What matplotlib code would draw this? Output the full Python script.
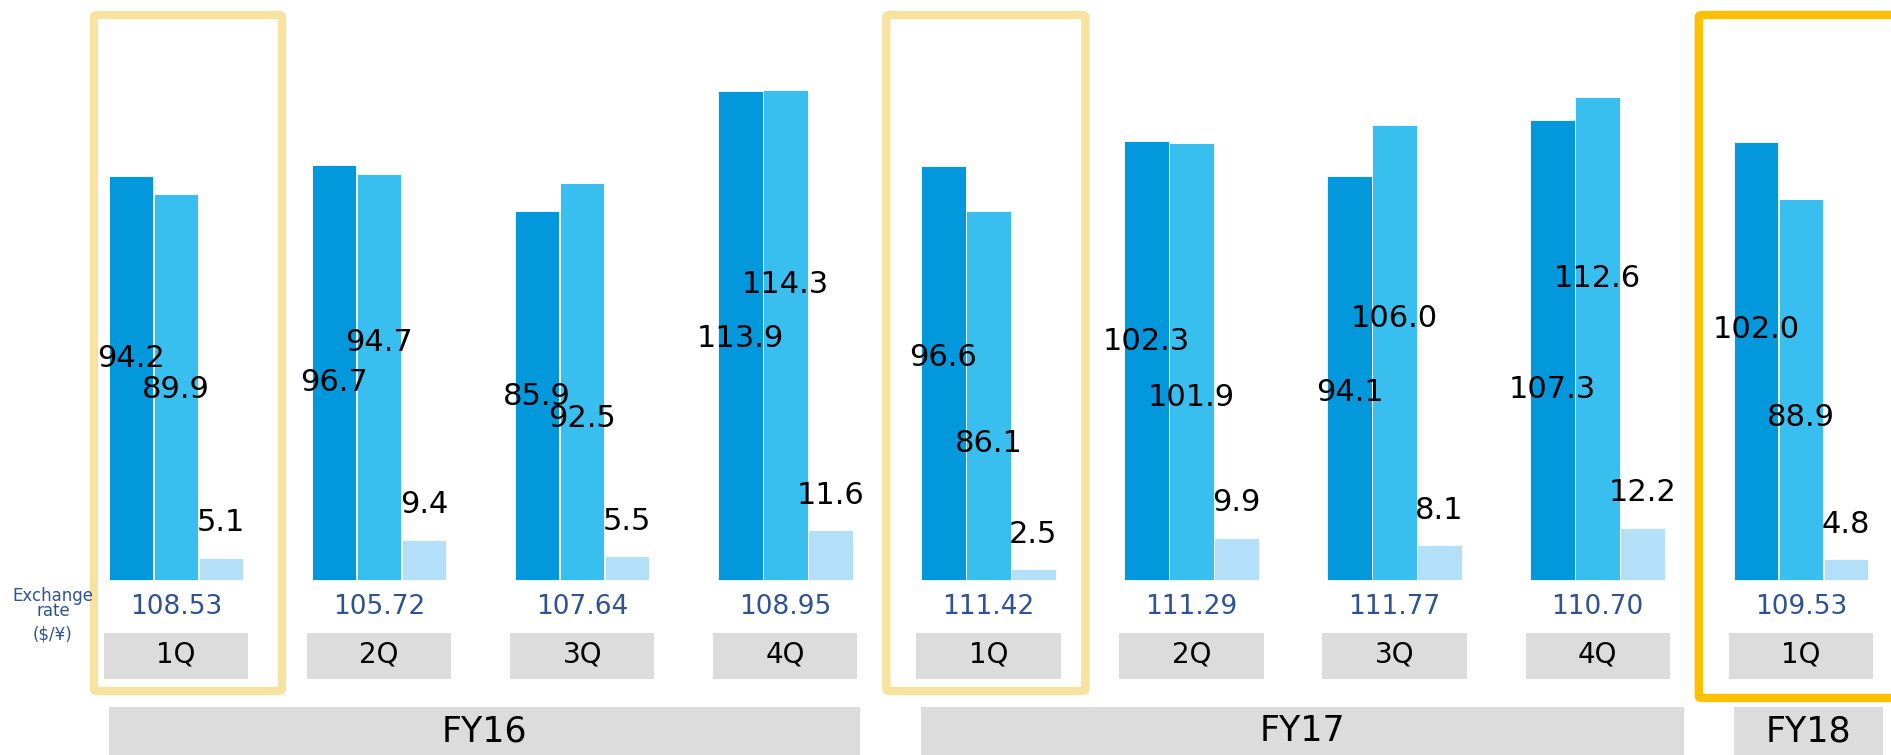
import matplotlib
matplotlib.use("Agg")
import matplotlib.pyplot as plt
from matplotlib.patches import Rectangle, FancyBboxPatch

# data
quarters = ["1Q", "2Q", "3Q", "4Q", "1Q", "2Q", "3Q", "4Q", "1Q"]
years = ["FY16", "FY17", "FY18"]
year_groups = [(0, 3), (4, 7), (8, 8)]
series_a = [94.2, 96.7, 85.9, 113.9, 96.6, 102.3, 94.1, 107.3, 102.0]
series_b = [89.9, 94.7, 92.5, 114.3, 86.1, 101.9, 106.0, 112.6, 88.9]
series_c = [5.1, 9.4, 5.5, 11.6, 2.5, 9.9, 8.1, 12.2, 4.8]
exchange = ["108.53", "105.72", "107.64", "108.95", "111.42",
            "111.29", "111.77", "110.70", "109.53"]

# label heights as placed on the slide (data units)
label_a_y = [51.6, 46.0, 42.7, 56.2, 51.9, 55.7, 43.8, 44.3, 58.5]
label_b_y = [44.3, 55.3, 37.6, 68.9, 31.9, 42.6, 61.0, 70.3, 37.8]

# layout (pixels of the 1891x755 canvas)
W, H = 1891, 755
BASE = 580.0      # baseline pixel row
SCALE = 4.29      # pixels per unit
STEP = 203.1      # pixels per quarter
X0 = 176.0        # centre of first quarter


def py(p):
    return (BASE - p) / SCALE


def pxu(p):
    return (p - X0) / STEP


c_dark = "#0398DB"
c_mid = "#38BEEF"
c_pale = "#B3E0F8"
c_grey = "#DCDCDC"
c_rate = "#2F5391"

fig = plt.figure(figsize=(W / 100, H / 100), dpi=100)
ax = fig.add_axes([0, 0, 1, 1])
ax.set_xlim(pxu(0), pxu(W))
ax.set_ylim(py(H), py(0))
ax.axis("off")

x = list(range(len(quarters)))
off = 45 / STEP
bw = 44.5 / STEP
ax.bar([i - off for i in x], series_a, width=bw, color=c_dark, edgecolor="white", linewidth=0.6)
ax.bar(x, series_b, width=bw, color=c_mid, edgecolor="white", linewidth=0.6)
ax.bar([i + off for i in x], series_c, width=bw, color=c_pale, edgecolor="white", linewidth=0.6)

for i in x:
    ax.text(i - off, label_a_y[i], f"{series_a[i]:.1f}", ha="center", va="center", fontsize=22)
    ax.text(i, label_b_y[i], f"{series_b[i]:.1f}", ha="center", va="center", fontsize=22)
    ax.text(i + off, series_c[i] + 8.2, f"{series_c[i]:.1f}", ha="center", va="center", fontsize=22)
    ax.text(i, py(607), exchange[i], ha="center", va="center", fontsize=19, color=c_rate)
    # quarter box
    ax.add_patch(Rectangle((i - 0.355, py(679)), 0.71, py(633) - py(679),
                           facecolor=c_grey, edgecolor="none"))
    ax.text(i, py(655), quarters[i], ha="center", va="center", fontsize=20)

# fiscal year boxes
year_right = [75, 86, 82]
for name, (a, b), r in zip(years, year_groups, year_right):
    left = a - 67 / STEP
    right = b + r / STEP
    ax.add_patch(Rectangle((left, py(H + 5)), right - left, py(707) - py(H + 5),
                           facecolor=c_grey, edgecolor="none"))
    ax.text((left + right) / 2, py(731), name, ha="center", va="center", fontsize=25)

# highlight frames around first quarters
frames = [(0, -82, 106, "#F8E2A0", 691), (4, -102, 97, "#F8E2A0", 691), (8, -102, 140, "#FFC000", 698)]
for i, lo, hi, col, bot in frames:
    ax.add_patch(FancyBboxPatch((i + lo / STEP, py(bot)), (hi - lo) / STEP, py(15) - py(bot),
                                boxstyle="round,pad=0,rounding_size=0.02", mutation_aspect=20,
                                facecolor="none", edgecolor=col, linewidth=6, clip_on=False))

ax.text(pxu(53), py(596), "Exchange", ha="center", va="center", fontsize=12, color=c_rate)
ax.text(pxu(53), py(611), "rate", ha="center", va="center", fontsize=12, color=c_rate)
ax.text(pxu(53), py(635), "($/¥)", ha="center", va="center", fontsize=12, color=c_rate)

fig.savefig("out.png", dpi=100)
